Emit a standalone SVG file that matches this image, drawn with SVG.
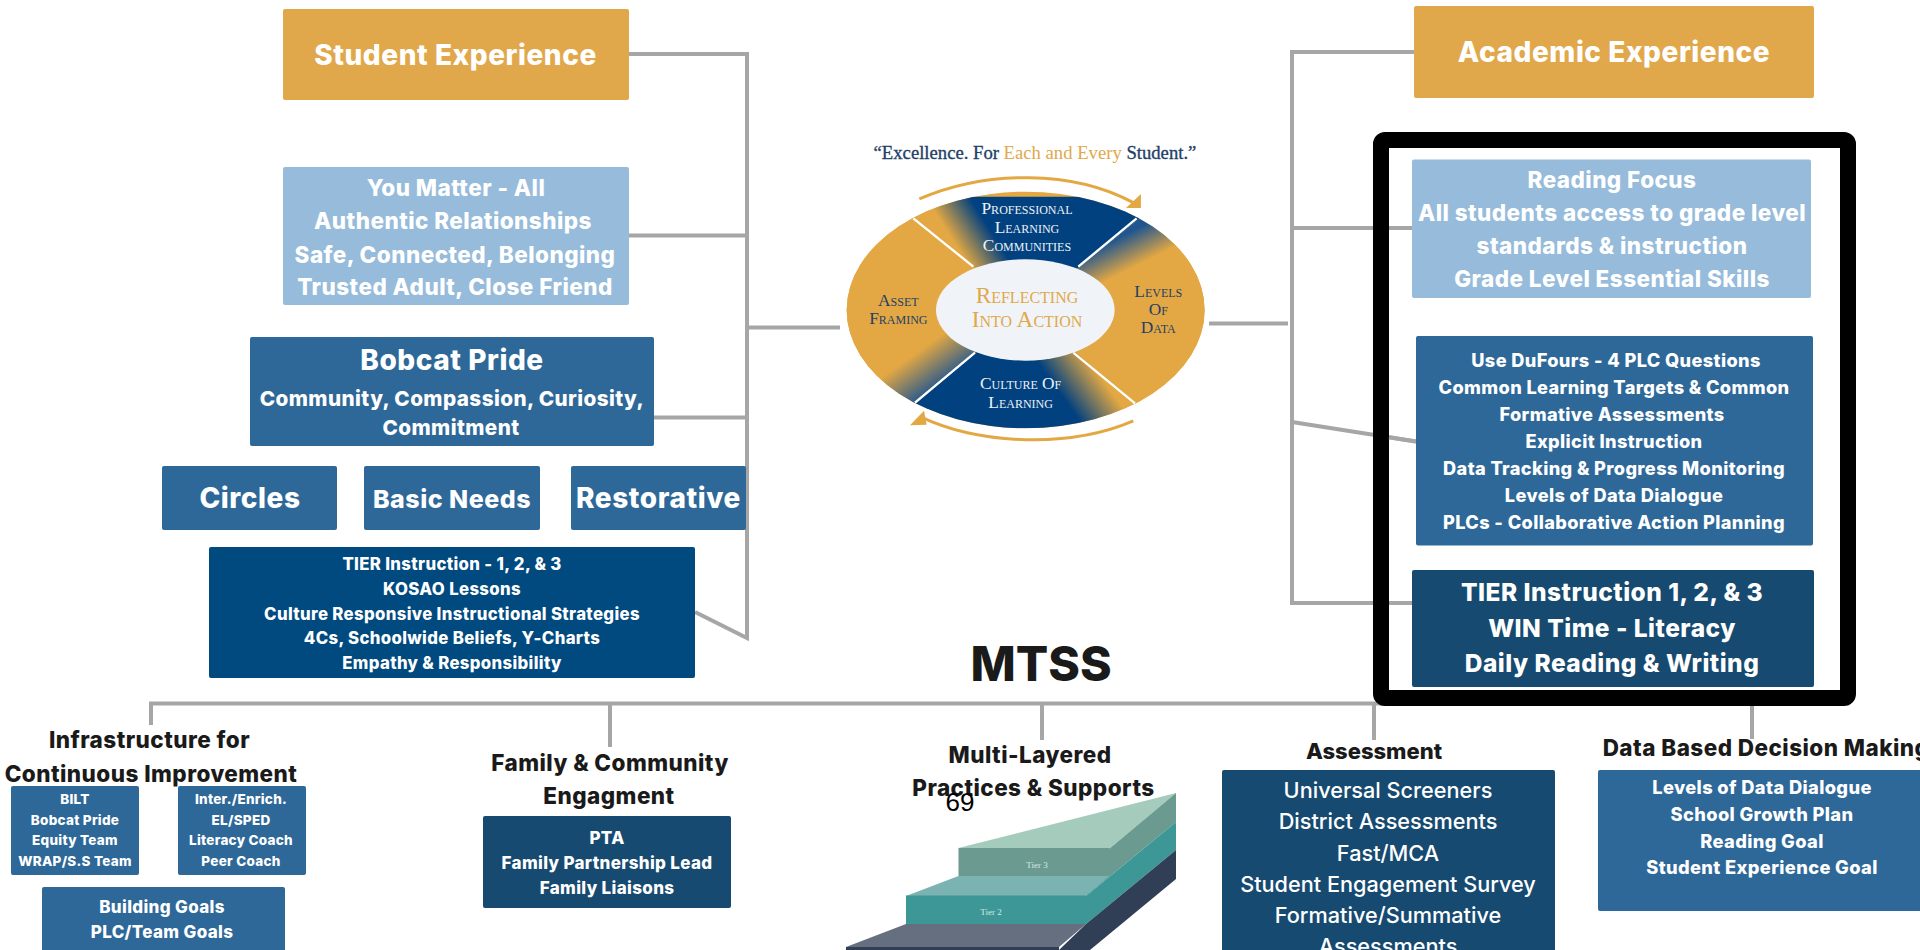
<svg xmlns="http://www.w3.org/2000/svg" width="1920" height="950" viewBox="0 0 1920 950">
<style>
text{font-family:"Inter","Liberation Sans",sans-serif;font-weight:800;text-anchor:middle;fill:#fff;letter-spacing:.02em}
.k{fill:#1a1a1a}
.gold{fill:#E1A84B}.lt{fill:#96BBDB}.mid{fill:#2E6899}.nv{fill:#004A80}.dk{fill:#174A70}
#connectors path{fill:none;stroke:#A6A6A6;stroke-width:4}
text.s{font-family:"Liberation Serif",serif;font-variant:small-caps;font-weight:400;letter-spacing:0}
text.q{font-family:"Liberation Serif",serif;font-weight:400;letter-spacing:0;fill:#1F4068;stroke:#1F4068;stroke-width:1}
.w{fill:#EDF2F6}text.n{fill:#1F4068}text.o,tspan.o{fill:#E1A84B;stroke:none}
text.a{font-weight:500;letter-spacing:0}
text.t{font-family:"Liberation Serif",serif;font-weight:400;letter-spacing:0;fill:#D8E8E4}
</style>
<defs>
<clipPath id="ring"><ellipse cx="617" cy="570" rx="537" ry="355"/></clipPath>
<linearGradient id="gt" gradientUnits="userSpaceOnUse" x1="375" y1="325" x2="470" y2="265"><stop offset="0" stop-color="#E3A843"/><stop offset="1" stop-color="#02417F"/></linearGradient>
<linearGradient id="gr" gradientUnits="userSpaceOnUse" x1="900" y1="350" x2="945" y2="440"><stop offset="0" stop-color="#1F5590"/><stop offset="1" stop-color="#E3A843"/></linearGradient>
<linearGradient id="gb" gradientUnits="userSpaceOnUse" x1="720" y1="820" x2="825" y2="745"><stop offset="0" stop-color="#02417F"/><stop offset="1" stop-color="#E3A843"/></linearGradient>
<linearGradient id="gl" gradientUnits="userSpaceOnUse" x1="300" y1="690" x2="375" y2="795"><stop offset="0" stop-color="#E3A843"/><stop offset="1" stop-color="#1F5590"/></linearGradient>
</defs>
<rect width="1920" height="950" fill="#fff"/>

<g id="connectors">
<path d="M628 54H747V638L695 612"/>
<path d="M628 235.500H747"/>
<path d="M654 417.500H747"/>
<path d="M747 327.500H840"/>
<path d="M1209 323.500H1288"/>
<path d="M1414 52H1292V603H1412"/>
<path d="M1292 228H1412"/>
<path d="M1292 422L1416 441.500"/>
<path d="M151 725V703.500H1752V739"/>
<path d="M610 703.500V747"/>
<path d="M1042 703.500V740"/>
<path d="M1374 703.500V740"/>
</g>

<g id="focus-frame"><rect x="1381" y="140" width="467" height="558" rx="4" fill="none" stroke="#000" stroke-width="16"/></g>
<g id="connectors-inside-frame"><path d="M1389 228H1412M1389 603H1412M1389 437.300L1416 441.500" fill="none" stroke="#A6A6A6" stroke-width="4"/></g>

<g id="student-experience"><rect class="gold" x="283" y="9" width="346" height="91" rx="2"/><text x="455.500" y="64.500" font-size="28">Student Experience</text></g>
<g id="you-matter"><rect class="lt" x="283" y="167" width="346" height="138" rx="2"/><g font-size="22.500"><text x="456" y="195.500">You Matter - All</text><text x="453" y="228.500">Authentic Relationships</text><text x="455" y="262.500">Safe, Connected, Belonging</text><text x="455" y="294.500">Trusted Adult, Close Friend</text></g></g>
<g id="bobcat-pride"><rect class="mid" x="250" y="337" width="404" height="109" rx="2"/><text x="452" y="370" font-size="28">Bobcat Pride</text><g font-size="20.700"><text x="452" y="406">Community, Compassion, Curiosity,</text><text x="451" y="435">Commitment</text></g></g>
<g id="circles"><rect class="mid" x="162" y="466" width="175" height="64" rx="2"/><text x="250" y="508" font-size="28">Circles</text></g>
<g id="basic-needs"><rect class="mid" x="364" y="466" width="176" height="64" rx="2"/><text x="452" y="508" font-size="25">Basic Needs</text></g>
<g id="restorative"><rect class="mid" x="571" y="466" width="175" height="64" rx="2"/><text x="658.500" y="508" font-size="28">Restorative</text></g>
<g id="tier-left"><rect class="nv" x="209" y="547" width="486" height="131" rx="2"/><g font-size="16.800"><text x="452" y="569.500">TIER Instruction - 1, 2, &amp; 3</text><text x="452" y="594.500">KOSAO Lessons</text><text x="452" y="619.500">Culture Responsive Instructional Strategies</text><text x="452" y="643.500">4Cs, Schoolwide Beliefs, Y-Charts</text><text x="452" y="668.500">Empathy &amp; Responsibility</text></g></g>

<g id="academic-experience"><rect class="gold" x="1414" y="6" width="400" height="92" rx="2"/><text x="1614" y="61.500" font-size="28">Academic Experience</text></g>
<g id="reading-focus"><rect class="lt" x="1412" y="159.500" width="399" height="138.500" rx="2"/><g font-size="22.500"><text x="1612" y="187.500">Reading Focus</text><text x="1612" y="220.500">All students access to grade level</text><text x="1612" y="254">standards &amp; instruction</text><text x="1612" y="287">Grade Level Essential Skills</text></g></g>
<g id="dufours"><rect class="mid" x="1416" y="336" width="397" height="209.500" rx="2"/><g font-size="18.200"><text x="1616" y="367">Use DuFours - 4 PLC Questions</text><text x="1614" y="394">Common Learning Targets &amp; Common</text><text x="1612" y="421">Formative Assessments</text><text x="1614" y="448">Explicit Instruction</text><text x="1614" y="475">Data Tracking &amp; Progress Monitoring</text><text x="1614" y="502">Levels of Data Dialogue</text><text x="1614" y="529">PLCs - Collaborative Action Planning</text></g></g>
<g id="tier-right"><rect class="dk" x="1412" y="570" width="402" height="117" rx="2"/><g font-size="24.500"><text x="1612" y="601">TIER Instruction 1, 2, &amp; 3</text><text x="1612" y="637">WIN Time - Literacy</text><text x="1612" y="672">Daily Reading &amp; Writing</text></g></g>

<g id="reflecting-cycle" transform="translate(820 120) scale(.3333)">
<ellipse cx="617" cy="570" rx="537" ry="355" fill="#E3A843"/>
<g clip-path="url(#ring)">
<polygon points="617,570 200,230 1040,230" fill="url(#gt)"/>
<polygon points="617,570 1040,230 1300,230 1300,910 1040,925" fill="url(#gr)"/>
<polygon points="617,570 1040,925 200,925" fill="url(#gb)"/>
<polygon points="617,570 200,925 0,925 0,230 200,230" fill="url(#gl)"/>
</g>
<path d="M280 295L460 440M950 295L775 440M285 848L465 698M945 850L760 698" stroke="#fff" stroke-width="7" fill="none"/>
<ellipse cx="616" cy="570" rx="268" ry="152" fill="#F0F4F8"/>
<path d="M298 237C500 150 760 150 940 248" fill="none" stroke="#E3A843" stroke-width="9"/>
<polygon points="963,222 963,264 918,264" fill="#E3A843"/>
<path d="M940 903C750 985 480 975 300 890" fill="none" stroke="#E3A843" stroke-width="9"/>
<polygon points="270,916 312,872 320,914" fill="#E3A843"/>
<text class="q" x="645" y="118" font-size="56">“Excellence. For <tspan class="o">Each and Every</tspan> Student.”</text>
<g font-size="52"><text class="s w" x="621" y="282">Professional</text><text class="s w" x="621" y="338">Learning</text><text class="s w" x="621" y="393">Communities</text>
<text class="s n" x="235" y="558">Asset</text><text class="s n" x="235" y="613">Framing</text>
<text class="s n" x="1015" y="530">Levels</text><text class="s n" x="1015" y="585">Of</text><text class="s n" x="1015" y="640">Data</text>
<text class="s w" x="602" y="808">Culture Of</text><text class="s w" x="602" y="863">Learning</text></g>
<text class="s o" x="621" y="548" font-size="70">Reflecting</text><text class="s o" x="621" y="622" font-size="70">Into Action</text>
</g>

<text class="k" id="mtss" x="1041" y="681" font-size="48" style="letter-spacing:0">MTSS</text>

<g id="infrastructure"><g font-size="22.500"><text class="k" x="149.500" y="748">Infrastructure for</text><text class="k" x="151" y="782">Continuous Improvement</text></g>
<rect class="mid" x="11" y="786" width="128" height="89" rx="2"/><g font-size="13.500"><text x="75" y="804">BILT</text><text x="75" y="825">Bobcat Pride</text><text x="75" y="845">Equity Team</text><text x="75" y="866">WRAP/S.S Team</text></g>
<rect class="mid" x="178" y="786" width="128" height="89" rx="2"/><g font-size="13.500"><text x="241" y="804">Inter./Enrich.</text><text x="241" y="825">EL/SPED</text><text x="241" y="845">Literacy Coach</text><text x="241" y="866">Peer Coach</text></g>
<rect class="mid" x="42" y="887" width="243" height="70" rx="2"/><g font-size="17"><text x="162" y="912.500">Building Goals</text><text x="162" y="937.500">PLC/Team Goals</text></g></g>

<g id="family"><g font-size="22.500"><text class="k" x="610" y="770.500">Family &amp; Community</text><text class="k" x="609" y="804">Engagment</text></g>
<rect class="dk" x="483" y="816" width="248" height="92" rx="2"/><g font-size="17"><text x="607" y="844">PTA</text><text x="607" y="868.500">Family Partnership Lead</text><text x="607" y="893.500">Family Liaisons</text></g></g>

<g id="multi-layered"><g font-size="22.500"><text class="k" x="1030" y="762.500">Multi-Layered</text><text class="k" x="1033.500" y="796">Practices &amp; Supports</text></g>
<polygon points="958.500,848 1176,793 1109,849" fill="#A5CBBD"/>
<rect x="958.500" y="848" width="151" height="28" fill="#6A9A90"/>
<polygon points="1109,849 1176,793 1176,822 1086,896" fill="#6A9A90"/>
<polygon points="958.500,876 1109,876 1086,896 906,896" fill="#7AB3B2"/>
<rect x="906" y="895.500" width="180" height="28.500" fill="#3C9796"/>
<polygon points="1086,896 1176,822 1176,850 1086,924" fill="#3C9796"/>
<polygon points="906,924 1086,924 1059,947 846,947" fill="#666F7F"/>
<polygon points="1086,924 1176,850 1176,879 1090,950 1059,950" fill="#303F55"/>
<rect x="846" y="947" width="213" height="3" fill="#303F55"/>
<text class="t" x="1037" y="868" font-size="9">Tier 3</text>
<text class="t" x="991" y="915" font-size="9">Tier 2</text></g>
<text id="page-number" x="960" y="811" font-size="26" style="font-family:'Liberation Sans',sans-serif;font-weight:400;fill:#000;letter-spacing:0">69</text>

<g id="assessment"><text class="k" x="1374" y="759" font-size="22" style="letter-spacing:0">Assessment</text><rect class="dk" x="1222" y="770" width="333" height="190" rx="2"/><g font-size="21.700"><text class="a" x="1388" y="798">Universal Screeners</text><text class="a" x="1388" y="829">District Assessments</text><text class="a" x="1388" y="861">Fast/MCA</text><text class="a" x="1388" y="892">Student Engagement Survey</text><text class="a" x="1388" y="923">Formative/Summative</text><text class="a" x="1388" y="954">Assessments</text></g></g>

<g id="data-decision"><text class="k" x="1766" y="756" font-size="22.500">Data Based Decision Making</text><rect class="mid" x="1598" y="770" width="330" height="141" rx="2"/><g font-size="18.300"><text x="1762" y="793.500">Levels of Data Dialogue</text><text x="1762" y="820.500">School Growth Plan</text><text x="1762" y="847.500">Reading Goal</text><text x="1762" y="873.500">Student Experience Goal</text></g></g>
</svg>
